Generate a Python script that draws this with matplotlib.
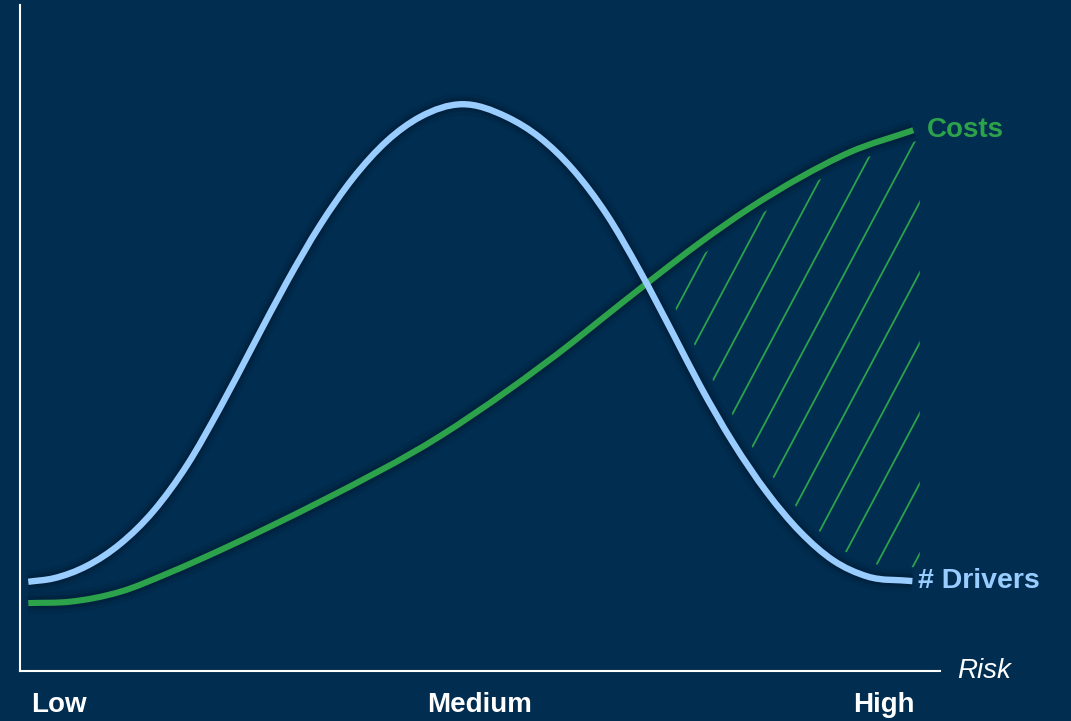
import numpy as np
import matplotlib
matplotlib.use('Agg')
import matplotlib.pyplot as plt
from matplotlib.path import Path
from matplotlib.patches import PathPatch, Polygon

plt.rcParams['font.family'] = ['Liberation Sans', 'DejaVu Sans']

# ========== 颜色 ==========
C_BG     = '#012d50'
C_BLUE   = '#99ccff'
C_GREEN  = '#2ca24b'
C_SHADOW = '#00182e'

# ========== 数据 (risk 0..100, level 0..100) ==========
drivers_x = [0.9, 3.6, 7.3, 10.9, 14.5, 18.2, 21.7, 25.3, 29.0, 32.6, 36.2, 39.9, 43.5,
             48.0, 52.9, 56.5, 60.1, 63.8, 67.4, 71.0, 73.9, 77.5, 81.2, 84.8, 88.4,
             92.1, 97.0]
drivers_y = [13.4, 13.9, 15.8, 19.1, 24.0, 31.0, 39.4, 48.8, 58.4, 66.9, 74.0, 79.6, 83.2,
             85.1, 83.2, 80.1, 75.3, 68.5, 60.0, 50.6, 42.9, 34.3, 26.8, 20.9, 16.6,
             14.2, 13.5]

costs_x = [0.9, 5.4, 10.9, 16.3, 21.7, 27.2, 32.6, 45.7, 52.9, 60.1, 63.0, 68.5, 73.9,
           79.3, 84.8, 90.2, 97.1]
costs_y = [10.2, 10.4, 11.9, 14.8, 18.1, 21.7, 25.4, 35.3, 42.0, 49.4, 52.6, 58.6, 64.3,
           69.5, 74.1, 77.9, 81.2]

tick_pos    = [4.2, 50.0, 93.9]
tick_labels = ['Low', 'Medium', 'High']


def smooth_path(xs, ys):
    """Smooth curve through the points: cubic Hermite segments in x, as Bezier path."""
    x = np.asarray(xs, float)
    y = np.asarray(ys, float)
    h = np.diff(x)
    dl = np.diff(y) / h
    m = np.empty_like(x)
    m[1:-1] = (dl[:-1] * h[1:] + dl[1:] * h[:-1]) / (h[:-1] + h[1:])
    m[0], m[-1] = dl[0], dl[-1]
    verts, codes = [(x[0], y[0])], [Path.MOVETO]
    for i in range(len(h)):
        verts += [(x[i] + h[i] / 3, y[i] + m[i] * h[i] / 3),
                  (x[i + 1] - h[i] / 3, y[i + 1] - m[i + 1] * h[i] / 3),
                  (x[i + 1], y[i + 1])]
        codes += [Path.CURVE4] * 3
    return Path(np.array(verts), codes)


W, H = 1071, 721
fig = plt.figure(figsize=(W / 100, H / 100), dpi=100, facecolor=C_BG)
ax = fig.add_axes([20 / W, 50 / H, 920 / W, 666 / H])
ax.set_facecolor(C_BG)
ax.set_xlim(0, 100)
ax.set_ylim(0, 100)
ax.set_autoscale_on(False)

for side in ['top', 'right']:
    ax.spines[side].set_visible(False)
for side in ['left', 'bottom']:
    ax.spines[side].set_color('white')
    ax.spines[side].set_linewidth(1.5)
ax.set_yticks([])
ax.set_xticks(tick_pos, tick_labels)
ax.tick_params(axis='x', length=0, pad=15, labelsize=20, labelcolor='white')
for lbl in ax.get_xticklabels():
    lbl.set_fontweight('bold')

drivers_path = smooth_path(drivers_x, drivers_y)
costs_path = smooth_path(costs_x, costs_y)

# 阴影区域：costs 高于 drivers 的右半部分
dv = drivers_path.to_polygons(closed_only=False)[0]
cv = costs_path.to_polygons(closed_only=False)[0]
xs = np.linspace(max(dv[0, 0], cv[0, 0]), min(dv[-1, 0], cv[-1, 0]), 600)
top = np.interp(xs, cv[:, 0], cv[:, 1])
bot = np.interp(xs, dv[:, 0], dv[:, 1])
keep = top > bot
x_edge = 97.8
verts = (list(zip(xs[keep], top[keep])) + [(x_edge, top[keep][-1]), (x_edge, bot[keep][-1])]
         + list(zip(xs[keep][::-1], bot[keep][::-1])))
region = Polygon(verts, closed=True, facecolor='none', edgecolor='none')
ax.add_patch(region)

# 斜线填充
theta = np.deg2rad(62)
step = 33.0
d = np.array([np.cos(theta), np.sin(theta)])
n = np.array([np.sin(theta), -np.cos(theta)])
origin = ax.transData.transform(verts[0])
inv = ax.transData.inverted()
for k in range(-2, 30):
    c = origin + (k + 0.15) * step * n
    seg = inv.transform([c - 900 * d, c + 900 * d])
    ln, = ax.plot(seg[:, 0], seg[:, 1], color=C_GREEN, lw=1.3, zorder=1)
    ln.set_clip_path(region)

# 曲线周围留白 + 阴影
ax.add_patch(PathPatch(costs_path, fc='none', ec=C_BG, lw=16, zorder=2, capstyle='round'))
ax.add_patch(PathPatch(drivers_path, fc='none', ec=C_BG, lw=20, zorder=2, capstyle='round'))
for p in [costs_path, drivers_path]:
    for w, a in [(16, 0.12), (11, 0.18), (8, 0.25)]:
        ax.add_patch(PathPatch(p, fc='none', ec=C_SHADOW, lw=w, alpha=a,
                               zorder=2.5, capstyle='butt'))

ax.add_patch(PathPatch(costs_path, fc='none', ec=C_GREEN, lw=4.4, zorder=3, capstyle='butt'))
ax.add_patch(PathPatch(drivers_path, fc='none', ec=C_BLUE, lw=4.6, zorder=4, capstyle='butt'))

ax.annotate('Costs', xy=(costs_x[-1], costs_y[-1]), xytext=(10, 0), textcoords='offset points',
            color=C_GREEN, fontsize=20, fontweight='bold', va='center', ha='left',
            annotation_clip=False)
ax.annotate('# Drivers', xy=(drivers_x[-1], drivers_y[-1]), xytext=(4, 0),
            textcoords='offset points', color=C_BLUE, fontsize=20.5, fontweight='bold',
            va='center', ha='left', annotation_clip=False)
ax.annotate('Risk', xy=(100, 0), xytext=(12, 0), textcoords='offset points', color='white',
            fontsize=20, fontstyle='italic', va='center', ha='left', annotation_clip=False)

plt.savefig('out.png', dpi=100, facecolor=C_BG)
plt.close()
